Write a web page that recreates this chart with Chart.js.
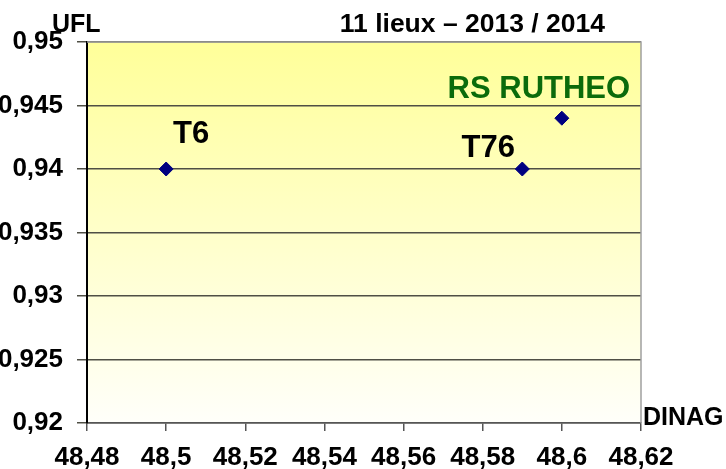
<!DOCTYPE html>
<html>
<head>
<meta charset="utf-8">
<script src="https://cdn.jsdelivr.net/npm/chart.js@4/dist/chart.umd.min.js"></script>
<style>
  html, body { margin: 0; padding: 0; background: #fff; }
  #wrap { width: 726px; height: 469px; }
</style>
</head>
<body>
<div id="wrap"><canvas id="graf" width="726" height="469"></canvas></div>
<script>
const lieux = ["T6", "T76", "RS RUTHEO"];
const dinag = [48.5, 48.59, 48.6];
const ufl = [0.94, 0.94, 0.944];
const couleursLieux = ["#000000", "#000000", "#0b6b0b"];
const titre = "11 lieux \u2013 2013 / 2014";

const police = '"Liberation Sans", Arial, sans-serif';

function virgule(v, dec) {
  return String(parseFloat(v.toFixed(dec))).replace(".", ",");
}

// fond dégradé jaune -> blanc dans la zone du graphique
const fondDegrade = {
  id: "fondDegrade",
  beforeDraw(chart) {
    const { ctx, chartArea: a } = chart;
    const g = ctx.createLinearGradient(0, a.top, 0, a.bottom);
    g.addColorStop(0, "#ffff99");
    g.addColorStop(1, "#fffffa");
    ctx.save();
    ctx.fillStyle = g;
    ctx.fillRect(a.left, a.top, a.right - a.left, a.bottom - a.top);
    ctx.restore();
  },
  afterDraw(chart) {
    const { ctx, chartArea: a } = chart;
    ctx.save();
    ctx.strokeStyle = "#a0a0a0";
    ctx.lineWidth = 1.5;
    ctx.beginPath();
    ctx.moveTo(a.left, a.top);
    ctx.lineTo(a.right, a.top);
    ctx.lineTo(a.right, a.bottom);
    ctx.stroke();
    // textes des axes et titre
    ctx.fillStyle = "#000";
    ctx.font = "bold 25px " + police;
    ctx.textAlign = "left";
    ctx.textBaseline = "alphabetic";
    ctx.fillText("UFL", 52, 32);
    ctx.fillText("DINAG", a.right + 2, 425);
    ctx.font = "bold 26.5px " + police;
    ctx.textAlign = "right";
    ctx.fillText(titre, 605, 32);
    ctx.restore();
  }
};

// étiquettes des points
const decalages = [[25, -26], [-34, -12], [-23, -20]];
const etiquettes = {
  id: "etiquettes",
  afterDatasetsDraw(chart) {
    const { ctx } = chart;
    const meta = chart.getDatasetMeta(0);
    ctx.save();
    ctx.font = "bold 31px " + police;
    ctx.textAlign = "center";
    ctx.textBaseline = "alphabetic";
    meta.data.forEach((p, i) => {
      ctx.fillStyle = couleursLieux[i];
      ctx.fillText(lieux[i], p.x + decalages[i][0], p.y + decalages[i][1]);
    });
    ctx.restore();
  }
};

new Chart(document.getElementById("graf"), {
  type: "scatter",
  data: {
    datasets: [{
      label: "Lieux",
      data: dinag.map((x, i) => ({ x: x, y: ufl[i] })),
      pointStyle: "rectRot",
      pointRadius: 7,
      backgroundColor: "#000080",
      borderColor: "#000080",
      borderWidth: 1
    }]
  },
  options: {
    responsive: false,
    animation: false,
    layout: { padding: { left: 0, top: 42, right: 85, bottom: 0 } },
    plugins: { legend: { display: false }, tooltip: { enabled: false } },
    scales: {
      x: {
        type: "linear",
        min: 48.48,
        max: 48.62,
        afterFit(s) { s.height = 46; },
        ticks: {
          stepSize: 0.02,
          padding: 11,
          color: "#000",
          font: { family: police, size: 26, weight: "bold" },
          callback: v => virgule(v, 2)
        },
        grid: { drawOnChartArea: false, tickLength: 8, color: "#555", lineWidth: 1.5 },
        border: { color: "#555", width: 1.5 }
      },
      y: {
        type: "linear",
        min: 0.92,
        max: 0.95,
        afterFit(s) { s.width = 87; },
        ticks: {
          stepSize: 0.005,
          padding: 14,
          color: "#000",
          font: { family: police, size: 26, weight: "bold" },
          callback: v => virgule(v, 3)
        },
        grid: { tickLength: 10, color: "#4f4f45", lineWidth: 1.5 },
        border: { color: "#000", width: 2 }
      }
    }
  },
  plugins: [fondDegrade, etiquettes]
});
</script>
</body>
</html>
